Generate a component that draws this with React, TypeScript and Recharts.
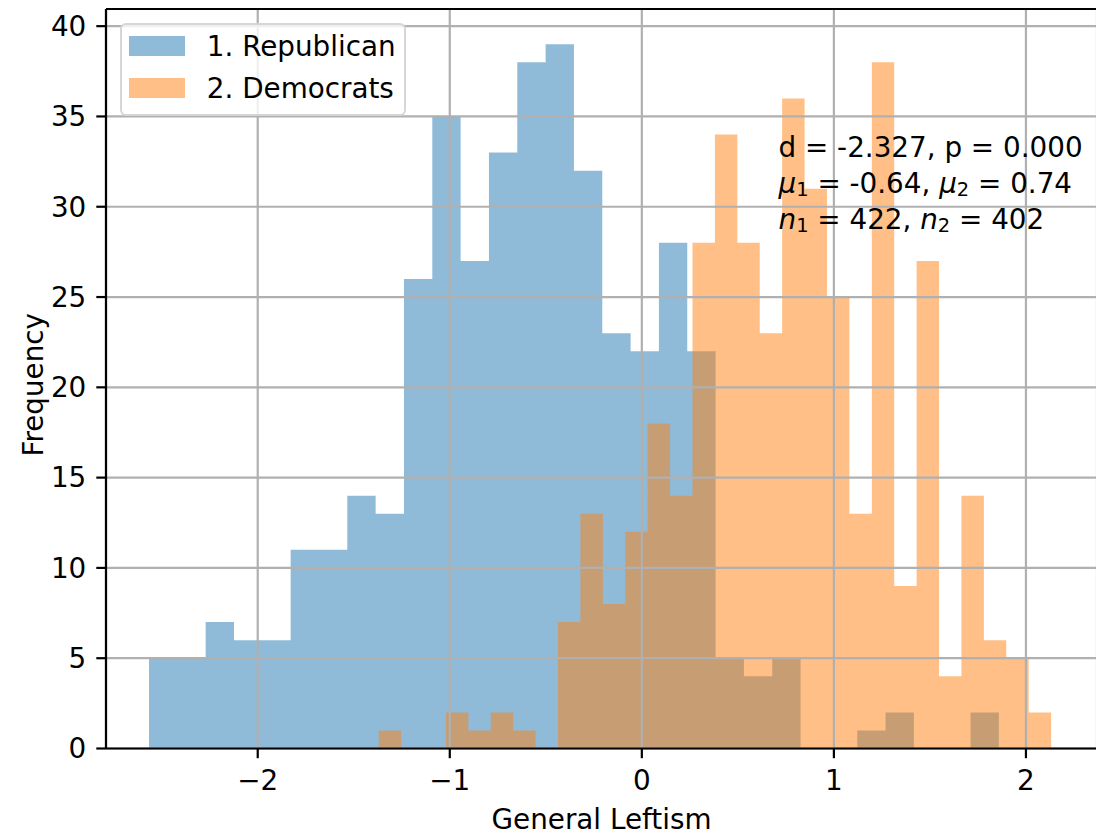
import React from 'react';
import {
  AreaChart,
  Area,
  XAxis,
  YAxis,
  CartesianGrid,
  Legend,
} from 'recharts';

// histogram bins (left edge, bin width, counts per bin)
const republicanStart = -2.566;
const republicanBinWidth = 0.1475;
const republicanCounts = [
  5, 5, 7, 6, 6, 11, 11, 14, 13, 26, 35, 27, 33, 38, 39, 32, 23, 22, 28, 22,
  5, 4, 5, 0, 0, 1, 2, 0, 0, 2,
];

const democratStart = -1.37;
const democratBinWidth = 0.1167;
const democratCounts = [
  1, 0, 0, 2, 1, 2, 1, 0, 7, 13, 8, 12, 18, 14, 28, 34, 28, 23, 36, 31, 25,
  13, 38, 9, 27, 4, 14, 6, 5, 2,
];

const seriesNames = { rep: '1. Republican', dem: '2. Democrats' };
const seriesColors: Record<string, string> = { rep: '#1f77b4', dem: '#ff7f0e' };

const xTicks = [-2, -1, 0, 1, 2];
const yTicks = [0, 5, 10, 15, 20, 25, 30, 35, 40];
const xDomain: [number, number] = [-2.79, 2.37];
const yDomain: [number, number] = [0, 40.95];

const statLines = {
  d: '-2.327',
  p: '0.000',
  mu1: '-0.64',
  mu2: '0.74',
  n1: '422',
  n2: '402',
};

const FONT = '"DejaVu Sans", sans-serif';
const FS = 27.8;
const LW = 2.2;

const binEdges = (start: number, width: number, n: number) =>
  Array.from({ length: n + 1 }, (_, i) => start + i * width);

const countAt = (x: number, start: number, width: number, counts: number[]) => {
  const i = Math.floor((x - start) / width + 1e-6);
  return i >= 0 && i < counts.length ? counts[i] : 0;
};

// both histograms on one shared x grid so each can be drawn as a step area
const buildData = () => {
  const xs = [
    ...binEdges(republicanStart, republicanBinWidth, republicanCounts.length),
    ...binEdges(democratStart, democratBinWidth, democratCounts.length),
  ].sort((a, b) => a - b);
  const uniq: number[] = [];
  xs.forEach((x) => {
    if (!uniq.length || Math.abs(x - uniq[uniq.length - 1]) > 1e-9) uniq.push(x);
  });
  return uniq.map((x) => ({
    x,
    rep: countAt(x, republicanStart, republicanBinWidth, republicanCounts),
    dem: countAt(x, democratStart, democratBinWidth, democratCounts),
  }));
};

const data = buildData();

const fmtTick = (v: number) => (v < 0 ? `\u2212${Math.abs(v)}` : `${v}`);

const renderLegend = (props: any) => {
  const payload = props.payload || [];
  return (
    <div
      style={{
        width: 286,
        height: 93,
        boxSizing: 'border-box',
        border: '2px solid rgba(204,204,204,0.8)',
        borderRadius: 6,
        background: 'rgba(255,255,255,0.8)',
        paddingLeft: 7,
        fontFamily: FONT,
        fontSize: FS,
        color: '#000',
      }}
    >
      {payload.map((entry: any) => (
        <div
          key={entry.dataKey}
          style={{ display: 'flex', alignItems: 'center', height: 42 }}
        >
          <span
            style={{
              display: 'inline-block',
              width: 55.6,
              height: 19.4,
              background: seriesColors[entry.dataKey] || entry.color,
              opacity: 0.5,
              marginRight: 22.2,
            }}
          />
          <span style={{ whiteSpace: 'nowrap' }}>{entry.value}</span>
        </div>
      ))}
    </div>
  );
};

const Sub = ({ children }: { children: React.ReactNode }) => (
  <span
    style={{ fontSize: '0.7em', position: 'relative', top: '0.17em', fontStyle: 'normal' }}
  >
    {children}
  </span>
);

const lineStyle: React.CSSProperties = {
  position: 'absolute',
  left: 778.5,
  lineHeight: '32px',
  whiteSpace: 'nowrap',
};

export default function App() {
  return (
    <div
      style={{
        position: 'absolute',
        left: 0,
        top: 0,
        width: 1096,
        height: 837,
        overflow: 'hidden',
        background: '#fff',
      }}
    >
      <AreaChart
        width={1100}
        height={837}
        data={data}
        margin={{ top: 8, right: 3, bottom: 8.5, left: 10 }}
      >
        <Area
          type="stepAfter"
          dataKey="rep"
          name={seriesNames.rep}
          fill={seriesColors.rep}
          fillOpacity={0.5}
          stroke="none"
          legendType="rect"
          dot={false}
          activeDot={false}
          isAnimationActive={false}
        />
        <Area
          type="stepAfter"
          dataKey="dem"
          name={seriesNames.dem}
          fill={seriesColors.dem}
          fillOpacity={0.5}
          stroke="none"
          legendType="rect"
          dot={false}
          activeDot={false}
          isAnimationActive={false}
        />
        <CartesianGrid stroke="#b0b0b0" strokeWidth={LW} zIndex={350} />
        <XAxis
          dataKey="x"
          type="number"
          domain={xDomain}
          ticks={xTicks}
          tickFormatter={fmtTick}
          height={80}
          tickSize={9.7}
          tickMargin={12}
          tick={{ fill: '#000', fontSize: FS, fontFamily: FONT }}
          tickLine={{ stroke: '#000', strokeWidth: LW }}
          axisLine={{ stroke: '#000', strokeWidth: LW }}
          label={{
            value: 'General Leftism',
            position: 'insideBottom',
            offset: 0,
            fill: '#000',
            fontSize: FS,
            fontFamily: FONT,
          }}
        />
        {/* top spine of the axes frame */}
        <XAxis
          xAxisId="top"
          orientation="top"
          type="number"
          domain={xDomain}
          height={1}
          tick={false}
          tickLine={false}
          axisLine={{ stroke: '#000', strokeWidth: LW }}
        />
        <YAxis
          type="number"
          domain={yDomain}
          ticks={yTicks}
          width={96}
          tickSize={9.7}
          tickMargin={10}
          tick={{ fill: '#000', fontSize: FS, fontFamily: FONT }}
          tickLine={{ stroke: '#000', strokeWidth: LW }}
          axisLine={{ stroke: '#000', strokeWidth: LW }}
          label={{
            content: (p: any) => {
              const vb = p.viewBox || { x: 10, y: 9, height: 739.5 };
              const cx = vb.x + 23;
              const cy = vb.y + vb.height / 2 + 6;
              return (
                <text
                  x={cx}
                  y={cy}
                  transform={`rotate(-90, ${cx}, ${cy})`}
                  textAnchor="middle"
                  dy="0.355em"
                  fill="#000"
                  fontSize={FS}
                  fontFamily={FONT}
                >
                  Frequency
                </text>
              );
            },
          }}
        />
        <Legend
          layout="vertical"
          align="center"
          verticalAlign="middle"
          content={renderLegend}
          wrapperStyle={{ left: 120, top: 23, width: 'auto', height: 'auto' }}
        />
      </AreaChart>
      <div style={{ fontFamily: FONT, fontSize: FS, color: '#000' }}>
        <div style={{ ...lineStyle, top: 132 }}>
          d = {statLines.d}, p = {statLines.p}
        </div>
        <div style={{ ...lineStyle, top: 168 }}>
          <i>μ</i>
          <Sub>1</Sub> = {statLines.mu1}, <i>μ</i>
          <Sub>2</Sub> = {statLines.mu2}
        </div>
        <div style={{ ...lineStyle, top: 204 }}>
          <i>n</i>
          <Sub>1</Sub> = {statLines.n1}, <i>n</i>
          <Sub>2</Sub> = {statLines.n2}
        </div>
      </div>
    </div>
  );
}
